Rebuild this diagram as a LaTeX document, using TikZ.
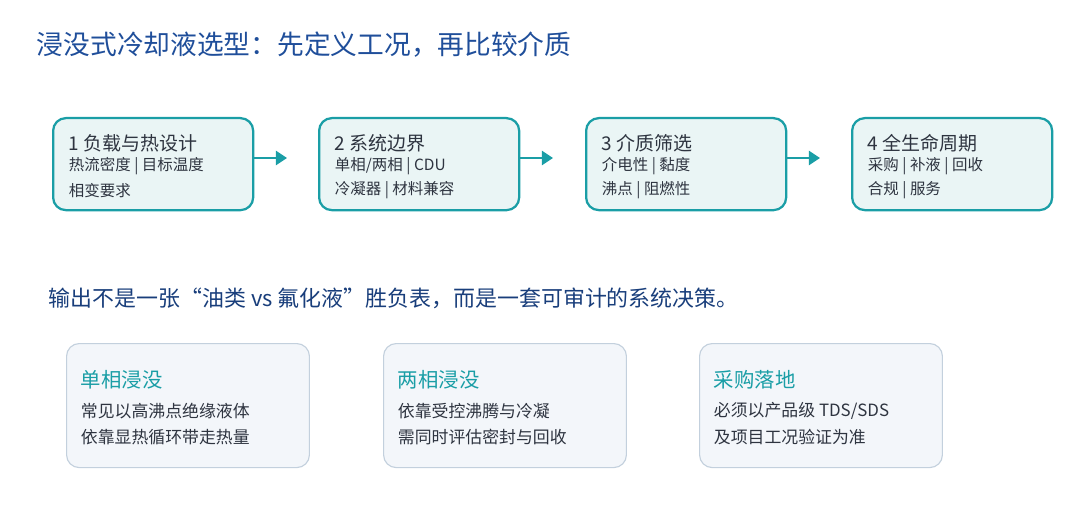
\documentclass[tikz,border=0pt]{standalone}
\usepackage{fontspec}
\setmainfont{Noto Sans CJK SC}
\usetikzlibrary{arrows.meta}
\definecolor{teal1}{HTML}{1A9EA6}
\definecolor{tealbg}{HTML}{EAF5F5}
\definecolor{cardbg}{HTML}{F3F6FA}
\definecolor{cardln}{HTML}{C3D0DD}
\definecolor{navy}{HTML}{1F4E9A}
\definecolor{ink}{HTML}{2E3440}
\tikzset{
  stage/.style={draw=teal1,line width=1.6pt,fill=tealbg,rounded corners=9pt,
    minimum width=5cm,minimum height=2.3cm,anchor=north west},
  card/.style={draw=cardln,line width=0.8pt,fill=cardbg,rounded corners=9pt,
    minimum width=6.07cm,minimum height=3.1cm,anchor=north west},
  flow/.style={teal1,line width=2pt,-{Triangle[length=8pt,width=10pt]}},
}
\begin{document}
\begin{tikzpicture}[x=0.025cm,y=-0.025cm]
                \useasboundingbox (0,0) rectangle (1080,518);
                \node[anchor=west,navy,font=\fontsize{19}{22}\selectfont] (title) at (32,45) {浸没式冷却液选型：先定义工况，再比较介质};

                \node[stage] (s1) at (52,117) {};
                \node[stage] (s2) at (318,117) {};
                \node[stage] (s3) at (585,117) {};
                \node[stage] (s4) at (851,117) {};
                \foreach \n/\a/\b/\c in {s1/{1 负载与热设计}/{热流密度 | 目标温度}/{相变要求},
                    s2/{2 系统边界}/{单相/两相 | CDU}/{冷凝器 | 材料兼容},
                    s3/{3 介质筛选}/{介电性 | 黏度}/{沸点 | 阻燃性},
                    s4/{4 全生命周期}/{采购 | 补液 | 回收}/{合规 | 服务}} {
                    \node[anchor=west,ink,font=\fontsize{13.5}{16}\selectfont] (\n h) at ([xshift=0.3cm,yshift=-0.65cm]\n.north west) {\a};
                    \node[anchor=west,ink,font=\fontsize{11}{13}\selectfont] (\n a) at ([xshift=0.3cm,yshift=-1.22cm]\n.north west) {\b};
                    \node[anchor=west,ink,font=\fontsize{11}{13}\selectfont] (\n b) at ([xshift=0.3cm,yshift=-1.83cm]\n.north west) {\c};
                }
                \coordinate (e1) at (287,158);
                \coordinate (e2) at (553,158);
                \coordinate (e3) at (820,158);
                \draw[flow] (s1.east |- e1) -- (e1);
                \draw[flow] (s2.east |- e2) -- (e2);
                \draw[flow] (s3.east |- e3) -- (e3);

                \node[anchor=west,navy!80!black,font=\fontsize{15.6}{18}\selectfont] (note) at (44,298) {输出不是一张“油类 vs 氟化液”胜负表，而是一套可审计的系统决策。};

                \node[card] (c1) at (66,343) {};
                \node[card] (c2) at (383,343) {};
                \node[card] (c3) at (699,343) {};
                \foreach \n/\a/\b/\c in {c1/{单相浸没}/{常见以高沸点绝缘液体}/{依靠显热循环带走热量},
                    c2/{两相浸没}/{依靠受控沸腾与冷凝}/{需同时评估密封与回收},
                    c3/{采购落地}/{必须以产品级 TDS/SDS}/{及项目工况验证为准}} {
                    \node[anchor=west,teal1,font=\fontsize{14.5}{17}\selectfont] (\n h) at ([xshift=0.25cm,yshift=-0.92cm]\n.north west) {\a};
                    \node[anchor=west,ink,font=\fontsize{12}{14}\selectfont] (\n a) at ([xshift=0.25cm,yshift=-1.7cm]\n.north west) {\b};
                    \node[anchor=west,ink,font=\fontsize{12}{14}\selectfont] (\n b) at ([xshift=0.25cm,yshift=-2.35cm]\n.north west) {\c};
                }
\end{tikzpicture}
\end{document}
